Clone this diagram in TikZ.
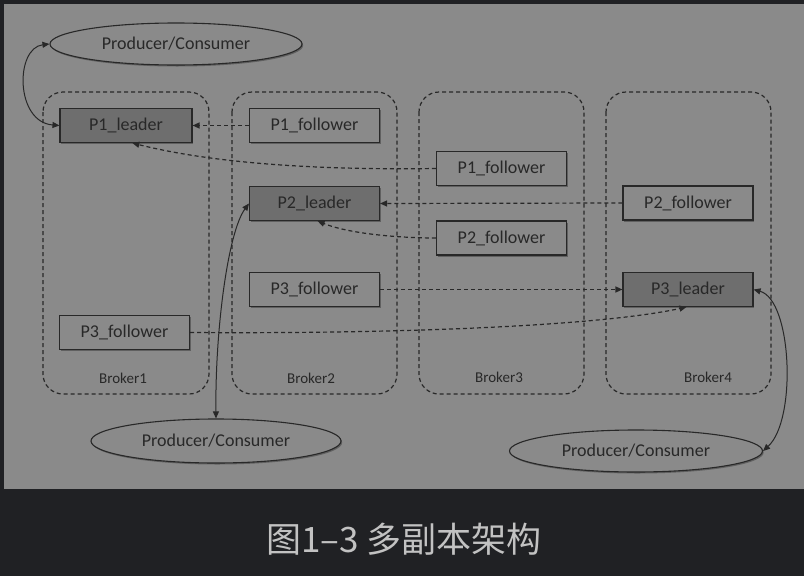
\documentclass[tikz,border=0pt]{standalone}
\usepackage{fontspec}
\setmainfont{Carlito}
\newfontfamily\cjk{Noto Sans CJK SC}
\usetikzlibrary{arrows.meta,shapes.geometric,shadows}
\definecolor{panel}{HTML}{8A8A8A}
\definecolor{dark}{HTML}{202124}
\definecolor{leadfill}{HTML}{6E6E6E}
\definecolor{ink}{HTML}{282828}
\definecolor{captxt}{HTML}{C2C2C2}
\tikzset{
  shad/.style={drop shadow={shadow xshift=1.2pt,shadow yshift=-1.5pt,fill=black,opacity=0.3}},
  replica/.style={draw=ink,line width=1.1pt,rectangle,minimum width=130pt,minimum height=34pt,inner sep=0pt,
    fill=panel,text=ink,font=\fontsize{18}{20}\selectfont,shad},
  leaderbox/.style={replica,fill=leadfill},
  client/.style={draw=ink,line width=1.1pt,ellipse,minimum width=252pt,minimum height=42pt,inner sep=0pt,
    fill=panel,text=ink,font=\fontsize{18}{20}\selectfont,shad},
  broker/.style={draw=ink,line width=1.2pt,dash pattern=on 4pt off 3pt,rounded corners=20pt},
  brokerlabel/.style={text=ink,font=\fontsize{15}{17}\selectfont,inner sep=0pt},
  sync/.style={draw=ink,line width=1.2pt,dash pattern=on 4pt off 3pt,-{Triangle[length=7pt,width=6pt]}},
  rw/.style={draw=ink,line width=1pt,{Triangle[length=7pt,width=6pt]}-{Triangle[length=7pt,width=6pt]}}
}
\begin{document}
\begin{tikzpicture}[x=1pt,y=-1pt]
\useasboundingbox (0,0) rectangle (804,576);
\fill[dark] (0,0) rectangle (804,576);
\fill[panel] (4,4) rectangle (804,489);
% brokers
\draw[broker] (43,92) rectangle (209,394);
\draw[broker] (232,92) rectangle (397,394);
\draw[broker] (419,92) rectangle (584,394);
\draw[broker] (606,92) rectangle (771,394);
\node[brokerlabel] (b1) at (123,378) {Broker1};
\node[brokerlabel] (b2) at (311,378) {Broker2};
\node[brokerlabel] (b3) at (499,377) {Broker3};
\node[brokerlabel] (b4) at (708,377) {Broker4};
% replicas
\node[leaderbox,minimum width=132pt] (p1l) at (126,125.5) {P1\_leader};
\node[replica] (p1f2) at (314.5,125.5) {P1\_follower};
\node[replica] (p1f3) at (501.5,168.5) {P1\_follower};
\node[leaderbox] (p2l) at (314.5,203.5) {P2\_leader};
\node[replica] (p2f4) at (688,203) {P2\_follower};
\node[replica] (p2f3) at (501.5,238) {P2\_follower};
\node[replica] (p3f2) at (314.5,289.5) {P3\_follower};
\node[leaderbox] (p3l) at (688,289.5) {P3\_leader};
\node[replica] (p3f1) at (124.5,332.5) {P3\_follower};
% clients
\node[client] (c1) at (176,44) {Producer/Consumer};
\node[client,minimum width=250pt,minimum height=44pt] (c2) at (216,441) {Producer/Consumer};
\node[client,minimum width=253pt] (c3) at (636,451) {Producer/Consumer};
% replication
\draw[sync] (p1f2.west) -- (p1l.east);
\draw[sync] (p1f3.west) .. controls (330,170) and (220,165) .. (p1l.-70);
\draw[sync] (p2f4.west) -- (p2l.east);
\draw[sync] (p2f3.west) .. controls (400,238) and (350,234) .. (p2l.-80);
\draw[sync] (p3f2.east) -- (p3l.west);
\draw[sync] (p3f1.east) .. controls (400,334) and (600,326) .. (p3l.-95);
% producer / consumer
\draw[rw] (c1.west) .. controls (15,48) and (15,122) .. (p1l.west);
\draw[rw] (c2.north) .. controls (215,330) and (228,232) .. (p2l.west);
\draw[rw] (p3l.east) .. controls (792,300) and (797,420) .. (c3.east);
% caption
\node[text=captxt,font=\cjk\fontsize{35}{40}\selectfont,inner sep=0pt] (cap) at (404,539) {图1–3 多副本架构};
\end{tikzpicture}
\end{document}
